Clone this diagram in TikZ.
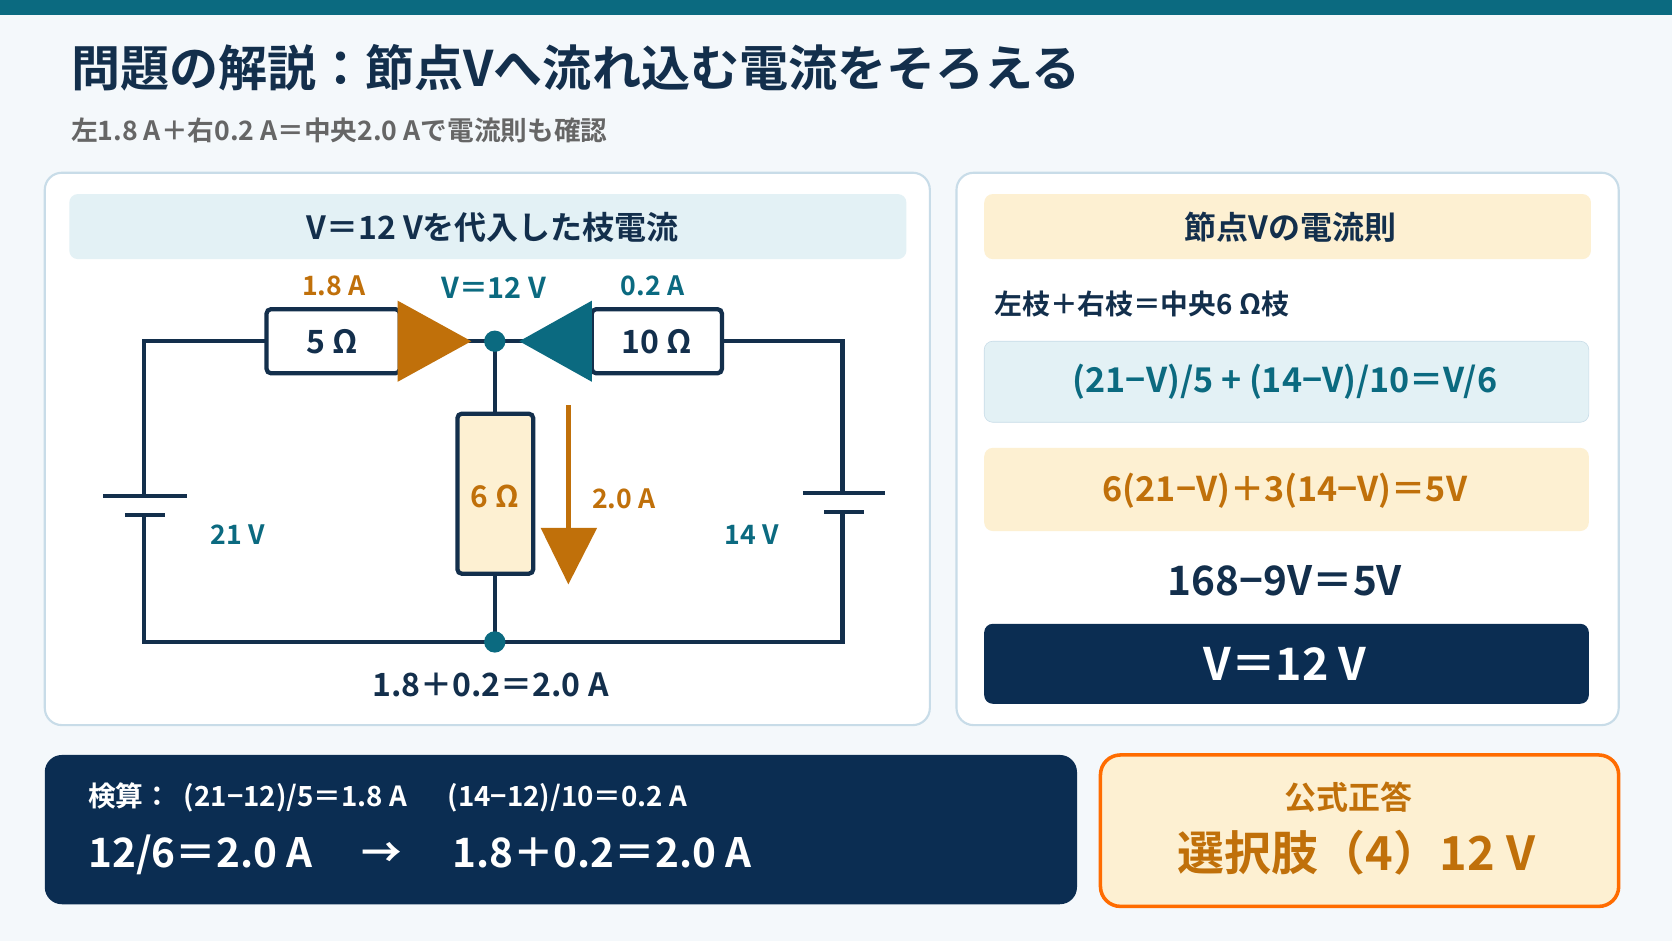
\documentclass[tikz,border=0pt]{standalone}
\usepackage{fontspec}
\setmainfont{Noto Sans CJK JP}
\newfontfamily\jpb{Noto Sans CJK JP}[BoldFont={* Bold}]
\definecolor{navy}{HTML}{132F4C}
\definecolor{dnavy}{HTML}{0B2D52}
\definecolor{teal}{HTML}{0B6A80}
\definecolor{org}{HTML}{C0700A}
\definecolor{bg}{HTML}{F4F8FB}
\definecolor{pbord}{HTML}{C8DCE8}
\definecolor{lblue}{HTML}{E3F1F5}
\definecolor{lorg}{HTML}{FDF0D2}
\newcommand{\fs}[1]{\fontsize{\dimexpr #1pt*3/4\relax}{\dimexpr #1pt*9/10\relax}\selectfont\bfseries}
\begin{document}
\begin{tikzpicture}[x=0.75pt,y=-0.75pt,
 panel/.style={draw=pbord,line width=1.5pt,fill=white,rounded corners=12pt},
 band/.style={rounded corners=6pt},
 wire/.style={navy,line width=3pt},
 res/.style={draw=navy,line width=3pt,fill=white,rounded corners=3pt},
 dot/.style={circle,fill=teal,inner sep=0pt,minimum size=15pt}]
\fill[bg] (0,0) rectangle (1568,882);
\useasboundingbox (0,0) rectangle (1568,882);
\fill[teal] (0,0) rectangle (1568,14);
\node[anchor=west,navy] (title) at (62,64) {\jpb\fs{46}問題の解説：節点Vへ流れ込む電流をそろえる};
\node[anchor=west,text=gray!80!black] (sub) at (62,122) {\jpb\fs{25}左1.8 A＋右0.2 A＝中央2.0 Aで電流則も確認};
% left panel
\draw[panel] (42,162) rectangle (872,680);
\fill[band,lblue] (65,182) rectangle (850,243);
\node[navy] (lh) at (462,213) {\jpb\fs{30}V＝12 Vを代入した枝電流};
\coordinate (tl) at (135,320); \coordinate (tr) at (790,320);
\coordinate (bl) at (135,602); \coordinate (br) at (790,602);
\draw[wire] (135,465) -- (tl) -- (tr) -- (790,462);
\draw[wire] (135,483) -- (bl) -- (br) -- (790,480);
\draw[wire] (97,465) -- (175,465);
\draw[wire] (117,483) -- (155,483);
\draw[wire] (753,462) -- (830,462);
\draw[wire] (773,480) -- (810,480);
\draw[wire] (464,320) -- (464,602);
\node[dot] (n1) at (464,320) {};
\node[dot] (n2) at (464,602) {};
\draw[res] (250,290) rectangle (375,350);
\node[navy] (r5) at (312,320) {\jpb\fs{30}5 Ω};
\draw[res] (555,290) rectangle (677,350);
\node[navy] (r10) at (616,320) {\jpb\fs{30}10 Ω};
\draw[res,fill=lorg] (429,388) rectangle (500,538);
\node[org] (r6) at (464,466) {\jpb\fs{28}6 Ω};
\fill[org] (373,282) -- (373,358) -- (442,320) -- cycle;
\fill[teal] (555,282) -- (555,358) -- (487,320) -- cycle;
\draw[org,line width=4pt] (533,380) -- (533,500);
\fill[org] (507,495) -- (560,495) -- (533,548) -- cycle;
\node[org] (l18) at (313,268) {\jpb\fs{25}1.8 A};
\node[teal] (lv) at (463,270) {\jpb\fs{27}V＝12 V};
\node[teal] (l02) at (612,268) {\jpb\fs{25}0.2 A};
\node[org] (l20) at (585,468) {\jpb\fs{25}2.0 A};
\node[teal] (l21) at (223,501) {\jpb\fs{25}21 V};
\node[teal] (l14) at (705,501) {\jpb\fs{25}14 V};
\node[navy] (sum) at (460,642) {\jpb\fs{30}1.8＋0.2＝2.0 A};
% right panel
\draw[panel] (897,162) rectangle (1518,680);
\fill[band,lorg] (923,182) rectangle (1492,243);
\node[navy] (rh) at (1210,213) {\jpb\fs{30}節点Vの電流則};
\node[anchor=west,navy] (kcl) at (928,285) {\jpb\fs{26}左枝＋右枝＝中央6 Ω枝};
\draw[band,fill=lblue,draw=pbord] (923,320) rectangle (1490,396);
\node[teal] (e1) at (1205,358) {\jpb\fs{32}(21−V)/5 + (14−V)/10＝V/6};
\fill[band,lorg] (923,420) rectangle (1490,498);
\node[org] (e2) at (1205,460) {\jpb\fs{32}6(21−V)＋3(14−V)＝5V};
\node[navy] (e3) at (1205,545) {\jpb\fs{38}168−9V＝5V};
\fill[band,dnavy] (923,585) rectangle (1490,660);
\node[white] (e4) at (1205,623) {\jpb\fs{42}V＝12 V};
% bottom
\fill[dnavy,rounded corners=12pt] (42,708) rectangle (1010,848);
\node[anchor=west,white] (c1) at (78,748) {\jpb\fs{26}検算：\ \ (21−12)/5＝1.8 A\quad\ \ (14−12)/10＝0.2 A};
\node[anchor=west,white] (c2) at (78,802) {\jpb\fs{38}12/6＝2.0 A\quad\ →\quad\ 1.8＋0.2＝2.0 A};
\draw[draw=orange!85!red,line width=2.5pt,fill=lorg,rounded corners=14pt] (1032,708) rectangle (1518,850);
\node[org] (a1) at (1265,748) {\jpb\fs{30}公式正答};
\node[org] (a2) at (1272,800) {\jpb\fs{44}選択肢（4）12 V};
\end{tikzpicture}
\end{document}
